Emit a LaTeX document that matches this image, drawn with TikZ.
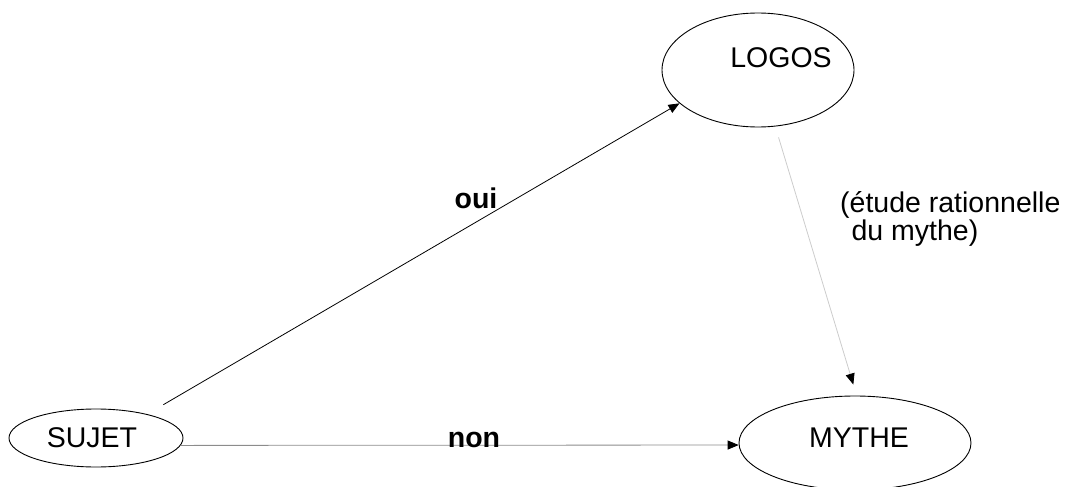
\documentclass[tikz,border=0pt]{standalone}
\usepackage{fontspec}
\setmainfont{Liberation Sans}
\usetikzlibrary{shapes.geometric,arrows.meta}
\definecolor{midgray}{HTML}{8C8C8C}
\definecolor{lightgray}{HTML}{CCCCCC}
\begin{document}
\begin{tikzpicture}[x=1pt,y=-1pt,
  bubble/.style={draw=black,line width=0.9pt,ellipse,inner sep=0pt},
  word/.style={inner sep=0pt,anchor=base,font=\fontsize{28.5}{30}\selectfont},
  bold word/.style={word,font=\fontsize{28.5}{30}\selectfont\bfseries},
  tip/.style={-{Triangle[length=11pt,width=9pt,color=black]}},
  link/.style={tip,line width=0.8pt}]
\useasboundingbox (0,0) rectangle (1071,487);
\clip (0,0) rectangle (1071,487);

% the three concepts
\node[bubble,minimum width=192pt,minimum height=114pt] (logos) at (758,70) {};
\node[bubble,minimum width=174pt,minimum height=58pt] (sujet) at (96,438) {};
\node[bubble,minimum width=232pt,minimum height=94pt] (mythe) at (855,443) {};

\node[word] (logostext) at (781,67) {LOGOS};
\node[word] (sujettext) at (92,447) {SUJET};
\node[word] (mythetext) at (859,447) {MYTHE};

% connectors
\draw[link,draw=black,shorten <=18.7pt] (sujet.25) -- (logos.203);
\draw[link,draw=midgray] (sujet.-5) -- (mythe.181);
\draw[link,draw=lightgray,shorten <=11.3pt,shorten >=11.5pt] (logos.-73.4) -- (mythe.88.4);

% labels
\node[bold word] (oui) at (476,208) {oui};
\node[bold word] (non) at (474,447) {non};
\node[word,anchor=base west,align=left] (etude) at (840,240)
  {(étude rationnelle\\[-2pt]\hspace*{0.4em}du mythe)};
\end{tikzpicture}
\end{document}
